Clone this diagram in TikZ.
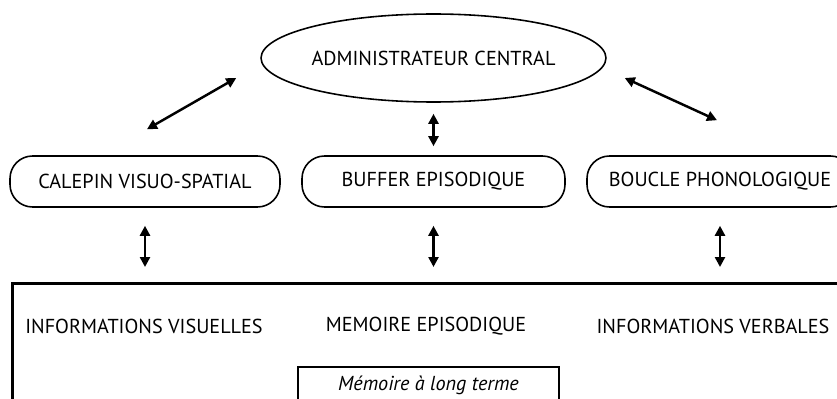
\documentclass[tikz,border=0pt]{standalone}
\usepackage{fontspec}
\setmainfont{PT Sans}
\usetikzlibrary{positioning,shapes.geometric,arrows.meta}

\begin{document}
\begin{tikzpicture}[node distance=2.47cm,on grid,
  every node/.style={font=\fontsize{11.5}{14}\selectfont},
  unit/.style={draw,rounded corners=0.45cm,line width=0.9pt,minimum height=1.02cm,inner sep=0pt},
  link/.style={{Triangle[length=0.2cm,width=0.2cm]}-{Triangle[length=0.2cm,width=0.2cm]},line width=1.4pt}]
              \useasboundingbox (0,0) rectangle (16.74,7.96);
              \node[ellipse,draw,line width=0.9pt,minimum width=6.14cm,minimum height=1.76cm,inner sep=0pt](a_c) at (8.67,6.8){ADMINISTRATEUR CENTRAL};
              \node[unit,minimum width=5.26cm](b_2)[below=of a_c]{BUFFER EPISODIQUE};
              \node[unit,minimum width=5.4cm](b_1)[left=5.77cm of b_2]{CALEPIN VISUO-SPATIAL};
              \node[unit,minimum width=5.32cm](b_3)[right=5.73cm of b_2]{BOUCLE PHONOLOGIQUE};
              \node[draw,line width=1.6pt,anchor=north west,minimum width=17cm,minimum height=3cm](m_lt) at (0.22,2.32){};
              \node(i_v) at (2.88,1.44){INFORMATIONS VISUELLES};
              \node(m_e)[right=5.64cm of i_v]{MEMOIRE EPISODIQUE};
              \node(i_vb)[right=5.74cm of m_e]{INFORMATIONS VERBALES};
              \node[draw,line width=0.9pt,anchor=north,minimum width=5.22cm,minimum height=0.76cm,inner sep=0pt](m_l) at (8.57,0.64){\itshape Mémoire à long terme};
              \coordinate[below left=0.4cm and 0.48cm of a_c.west](l_a);
              \coordinate[above right=0.52cm and 0.04cm of b_1.north](l_b);
              \coordinate[below right=0.4cm and 0.36cm of a_c.east](r_a);
              \coordinate[above left=0.7cm and 0.06cm of b_3.north](r_b);
              \draw[link](l_a) -- (l_b);
              \draw[link](r_a) -- (r_b);
              \draw[link,shorten <=0.22cm,shorten >=0.18cm](a_c) -- (b_2);
              \draw[link,shorten <=0.36cm,shorten >=0.3cm](b_1.south) -- (b_1.south |- m_lt.north);
              \draw[link,shorten <=0.36cm,shorten >=0.3cm](b_2.south) -- (b_2.south |- m_lt.north);
              \draw[link,shorten <=0.36cm,shorten >=0.3cm](b_3.south) -- (b_3.south |- m_lt.north);
          \end{tikzpicture}
\end{document}
